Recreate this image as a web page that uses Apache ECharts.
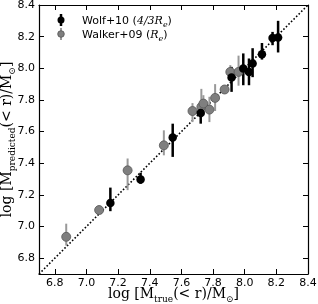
<!DOCTYPE html>
<html><head><meta charset="utf-8">
<script src="https://cdn.jsdelivr.net/npm/echarts@6/dist/echarts.min.js"></script>
<style>html,body{margin:0;padding:0;background:#fff}#c{width:318px;height:304px}</style>
</head><body><div id="c"></div>
<script>
// Wolf+10 (4/3 Re) - black
const wolfX  = [7.151, 7.342, 7.545, 7.722, 7.917, 7.991, 8.027, 8.050, 8.109, 8.176, 8.211];
const wolfY  = [7.148, 7.298, 7.562, 7.718, 7.942, 7.999, 7.977, 8.030, 8.089, 8.192, 8.195];
const wolfLo = [7.097, 7.270, 7.440, 7.650, 7.851, 7.893, 7.893, 7.944, 8.055, 8.146, 8.100];
const wolfHi = [7.246, 7.340, 7.650, 7.770, 8.009, 8.094, 8.062, 8.127, 8.160, 8.230, 8.300];
// Walker+09 (Re) - grey
const walkX  = [6.872, 7.080, 7.260, 7.489, 7.670, 7.726, 7.739, 7.777, 7.813, 7.873, 7.909, 7.961];
const walkY  = [6.935, 7.104, 7.355, 7.513, 7.730, 7.756, 7.777, 7.739, 7.813, 7.866, 7.977, 7.977];
const walkLo = [6.880, 7.080, 7.230, 7.450, 7.660, 7.690, 7.700, 7.660, 7.730, 7.840, 7.940, 7.890];
const walkHi = [7.018, 7.133, 7.430, 7.608, 7.780, 7.870, 7.830, 7.820, 7.900, 7.890, 8.020, 8.080];
// one-to-one line
const diagX = [6.7, 8.4];
const diagY = [6.7, 8.4];
const axisMin = 6.7, axisMax = 8.4;

const chart = echarts.init(document.getElementById('c'), null, {renderer: 'canvas'});

function errData(xs, ys, lo, hi) { return xs.map((x, i) => [x, ys[i], lo[i], hi[i]]); }
function errSeries(name, data, color, width) {
  return {
    type: 'custom', name: name, xAxisIndex: 0, yAxisIndex: 0, silent: true,
    data: data, z: 2,
    renderItem: function (params, api) {
      const a = api.coord([api.value(0), api.value(2)]);
      const b = api.coord([api.value(0), api.value(3)]);
      return {type: 'line', shape: {x1: a[0], y1: a[1], x2: b[0], y2: b[1]},
        style: {stroke: color, lineWidth: width}};
    }
  };
}

const tickFont = {color: '#000', fontSize: 11, fontFamily: 'DejaVu Sans'};
const fmt = v => v.toFixed(1);
const baseAxis = {
  min: axisMin, max: axisMax, splitNumber: 8,
  axisLine: {show: true, onZero: false, lineStyle: {color: '#000', width: 1.2}},
  axisTick: {show: true, inside: true, length: 5, lineStyle: {color: '#000', width: 1}},
  splitLine: {show: false}
};
const serif = 'DejaVu Serif';
const nameRich = {
  m: {fontFamily: serif, fontSize: 14, color: '#000', lineHeight: 16, verticalAlign: 'bottom'},
  s: {fontFamily: serif, fontSize: 9, color: '#000', lineHeight: 16, verticalAlign: 'bottom', padding: [0, 0, -3, 0]}
};

chart.setOption({
  animation: false,
  grid: {left: 39, right: 10, top: 5, bottom: 30, containLabel: false, outerBoundsMode: 'none'},
  xAxis: [
    Object.assign({}, baseAxis, {type: 'value', position: 'bottom',
      axisLabel: Object.assign({formatter: fmt, showMinLabel: false, margin: 4}, tickFont),
      name: '{m|log [M}{s|true}{m|(< r)/M}{s|⊙}{m|]}', nameLocation: 'middle', nameGap: 11,
      nameMoveOverlap: false,
      nameTextStyle: {rich: nameRich}}),
    Object.assign({}, baseAxis, {type: 'value', position: 'top', axisLabel: {show: false}})
  ],
  yAxis: [
    Object.assign({}, baseAxis, {type: 'value', position: 'left',
      axisLabel: Object.assign({formatter: fmt, showMinLabel: false, margin: 4}, tickFont),
      name: '{m|log [M}{s|predicted}{m|(< r)/M}{s|⊙}{m|]}', nameLocation: 'middle', nameGap: 25,
      nameMoveOverlap: false,
      nameTextStyle: {rich: nameRich}}),
    Object.assign({}, baseAxis, {type: 'value', position: 'right', axisLabel: {show: false}})
  ],
  series: [
    {type: 'line', data: diagX.map((x, i) => [x, diagY[i]]), symbol: 'none', z: 1,
      lineStyle: {color: '#000', width: 1.6, type: [1.6, 2]}, silent: true},
    errSeries('walkErr', errData(walkX, walkY, walkLo, walkHi), '#999999', 2),
    {type: 'scatter', data: walkX.map((x, i) => [x, walkY[i]]), symbolSize: 9, z: 3,
      itemStyle: {color: '#7f7f7f', borderColor: '#555', borderWidth: 0.8, opacity: 1}},
    errSeries('wolfErr', errData(wolfX, wolfY, wolfLo, wolfHi), '#000', 2.5),
    {type: 'scatter', data: wolfX.map((x, i) => [x, wolfY[i]]), symbolSize: 8.5, z: 4,
      itemStyle: {color: '#000', opacity: 1}}
  ],
  graphic: [
    {type: 'line', shape: {x1: 61, y1: 14, x2: 61, y2: 26}, style: {stroke: '#000', lineWidth: 2.5}},
    {type: 'circle', shape: {cx: 61, cy: 20, r: 3.5}, style: {fill: '#000'}},
    {type: 'line', shape: {x1: 61, y1: 28, x2: 61, y2: 40}, style: {stroke: '#999', lineWidth: 2}},
    {type: 'circle', shape: {cx: 61, cy: 34, r: 3.3}, style: {fill: '#7f7f7f', stroke: '#555', lineWidth: 0.8}},
    {type: 'text', x: 82, y: 20, style: {
      text: '{a|Wolf+10 (}{b|4/3R}{c|e}{a|)}', verticalAlign: 'middle',
      rich: {
        a: {fontFamily: 'DejaVu Sans', fontSize: 11, fill: '#000', lineHeight: 14, verticalAlign: 'bottom'},
        b: {fontFamily: serif, fontStyle: 'italic', fontSize: 11, fill: '#000', lineHeight: 14, verticalAlign: 'bottom'},
        c: {fontFamily: serif, fontStyle: 'italic', fontSize: 8, fill: '#000', lineHeight: 14, verticalAlign: 'bottom', padding: [0, 0, -2, 0]}
      }}},
    {type: 'text', x: 82, y: 34, style: {
      text: '{a|Walker+09 (}{b|R}{c|e}{a|)}', verticalAlign: 'middle',
      rich: {
        a: {fontFamily: 'DejaVu Sans', fontSize: 11, fill: '#000', lineHeight: 14, verticalAlign: 'bottom'},
        b: {fontFamily: serif, fontStyle: 'italic', fontSize: 11, fill: '#000', lineHeight: 14, verticalAlign: 'bottom'},
        c: {fontFamily: serif, fontStyle: 'italic', fontSize: 8, fill: '#000', lineHeight: 14, verticalAlign: 'bottom', padding: [0, 0, -2, 0]}
      }}}
  ]
});
</script></body></html>
